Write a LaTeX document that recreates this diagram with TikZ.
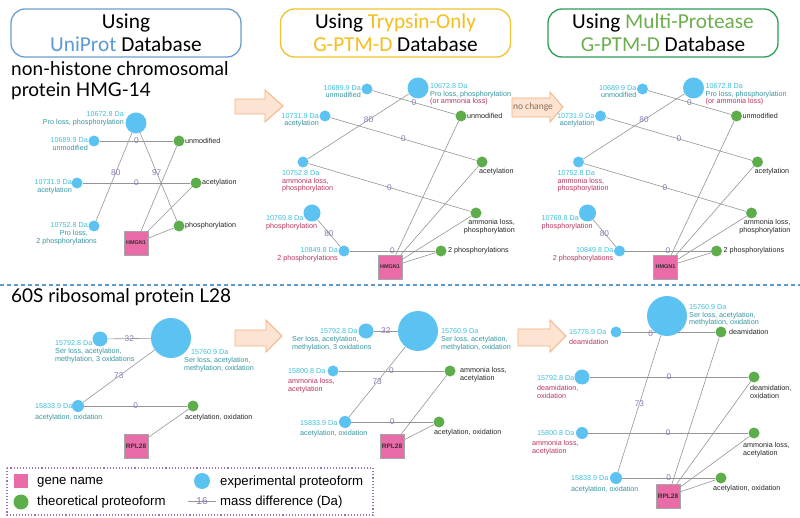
\documentclass[tikz,border=0pt]{standalone}
\usepackage{fontspec}
\setmainfont{Liberation Sans}
\newfontfamily\hdrfont{Carlito}
\newfontfamily\ttlfont{Lato}
\usetikzlibrary{backgrounds}
\definecolor{expblue}{HTML}{5CC2F2}
\definecolor{theogreen}{HTML}{5DAE4B}
\definecolor{genepink}{HTML}{E96BA8}
\definecolor{edgegray}{HTML}{959595}
\definecolor{edgepurple}{HTML}{8A78B4}
\definecolor{massc}{HTML}{3FBFDA}
\definecolor{descc}{HTML}{3596A0}
\definecolor{redc}{HTML}{B8345A}
\definecolor{hdrblue}{HTML}{6C9ECF}
\definecolor{hdryellow}{HTML}{F2C230}
\definecolor{hdrgreen}{HTML}{2E9E55}
\definecolor{txtblue}{HTML}{5B9BD5}
\definecolor{txtyellow}{HTML}{F5BE1E}
\definecolor{txtgreen}{HTML}{6DAF4E}
\definecolor{arrfill}{HTML}{FDE4D2}
\definecolor{arrdraw}{HTML}{F2B07E}
\definecolor{dashblue}{HTML}{5B9BD5}
\definecolor{legpurple}{HTML}{9B72B8}
\definecolor{notecol}{HTML}{8A6A5A}
\newcommand\mss[1]{\textcolor{massc}{#1}}
\newcommand\dsc[1]{\textcolor{descc}{#1}}
\newcommand\rdc[1]{\textcolor{redc}{#1}}
\tikzset{
  exp/.style={circle,fill=expblue,inner sep=0pt,minimum size=#1},
  theo/.style={circle,fill=theogreen,inner sep=0pt,minimum size=#1},
  gene/.style={rectangle,fill=genepink,draw=gray!70,line width=0.3pt,inner sep=0pt,minimum width=24,minimum height=24,font=\fontsize{5.5}{6}\selectfont\bfseries,text=black!80},
  genel/.style={gene,font=\fontsize{6.5}{7}\selectfont\bfseries},
  lbl/.style={inner sep=0pt,font=\fontsize{7.2}{7.6}\selectfont,text=black!85},
  lblw/.style={lbl,font=\fontsize{7.2}{8}\selectfont},
  edge/.style={draw=edgegray,line width=0.6pt},
  elbl/.style={inner sep=0pt,text=edgepurple,font=\fontsize{8.3}{8.3}\selectfont},
  hbox/.style={rounded corners=14pt,line width=1.3pt,minimum width=230,minimum height=48,align=center,font=\hdrfont\fontsize{21.3}{23}\selectfont},
  bigarrow/.style={fill=arrfill,draw=arrdraw,line width=0.8pt},
  legtxt/.style={inner sep=0pt,anchor=west,font=\fontsize{13.2}{15}\selectfont},
}
\newcommand\toppanel[1]{%
  \node[exp=21] (#1big) at (418,88) {};
  \node[lbl,anchor=north west,align=left] (#1bigL) at (430,83.5) {\mss{10672.8 Da}\\\dsc{Pro loss, phosphorylation}\\\rdc{(or ammonia loss)}};
  \node[exp=11] (#1u) at (367,89) {};
  \node[lbl,anchor=north east,align=right] (#1uL) at (361,85) {\mss{10689.9 Da}\\\dsc{unmodified}};
  \node[exp=11] (#1a) at (325,116) {};
  \node[lbl,anchor=north east,align=right] (#1aL) at (319,113) {\mss{10731.9 Da}\\\dsc{acetylation}};
  \node[exp=11] (#1p) at (303,162) {};
  \node[lbl,anchor=north west,align=left] (#1pL) at (282,170.5) {\mss{10752.8 Da}\\\rdc{ammonia loss,}\\\rdc{phosphorylation}};
  \node[exp=17] (#1q) at (312,213) {};
  \node[lbl,anchor=north west,align=left] (#1qL) at (266,215.5) {\mss{10769.8 Da}\\\rdc{phosphorylation}};
  \node[exp=11] (#1r) at (344,251) {};
  \node[lbl,anchor=north east,align=right] (#1rL) at (338,247.5) {\mss{10849.8 Da}\\\rdc{2 phosphorylations}};
  \node[theo=11] (#1gu) at (461,116) {};
  \node[lbl,anchor=west] (#1guL) at (467,116) {unmodified};
  \node[theo=11] (#1ga) at (482,162) {};
  \node[lbl,anchor=north west] (#1gaL) at (479,168.5) {acetylation};
  \node[theo=11] (#1gp) at (476,213) {};
  \node[lbl,anchor=north east,align=right] (#1gpL) at (515,219.5) {ammonia loss,\\phosphorylation};
  \node[theo=11] (#1g2) at (441,251) {};
  \node[lbl,anchor=west] (#1g2L) at (448,251) {2 phosphorylations};
  \node[gene] (#1gene) at (390,267) {HMGN1};
  \begin{scope}[on background layer]
    \draw[edge] (#1u) -- node[elbl]{0} (#1gu);
    \draw[edge] (#1big) -- node[elbl,pos=0.4]{80} (#1p);
    \draw[edge] (#1a) -- node[elbl]{0} (#1ga);
    \draw[edge] (#1p) -- node[elbl]{0} (#1gp);
    \draw[edge] (#1q) -- node[elbl]{80} (#1r);
    \draw[edge] (#1r) -- node[elbl]{0} (#1g2);
    \draw[edge] (#1gene) -- (#1gu);
    \draw[edge] (#1gene) -- (#1ga);
    \draw[edge] (#1gene) -- (#1gp);
    \draw[edge] (#1gene) -- (#1g2);
  \end{scope}
}
\begin{document}
\begin{tikzpicture}[x=1pt,y=-1pt]
\begin{scope}[on background layer]
\fill[white] (0,0) rectangle (800,518);
\end{scope}
\path[use as bounding box] (0,0) rectangle (800,518);

% headers
\node[hbox,draw=hdrblue] (h1) at (126,33) {Using\\\textcolor{txtblue}{UniProt} Database};
\node[hbox,draw=hdryellow] (h2) at (395.5,33) {Using \textcolor{txtyellow}{Trypsin-Only}\\\textcolor{txtyellow}{G-PTM-D} Database};
\node[hbox,draw=hdrgreen] (h3) at (663,33) {Using \textcolor{txtgreen}{Multi-Protease}\\\textcolor{txtgreen}{G-PTM-D} Database};

% titles
\node[inner sep=0pt,anchor=north west,align=left,font=\ttlfont\fontsize{19}{21}\selectfont] (t1) at (11,61) {non-histone chromosomal\\protein HMG-14};
\node[inner sep=0pt,anchor=west,font=\ttlfont\fontsize{19}{21}\selectfont] (t2) at (11,297) {60S ribosomal protein L28};

% separator
\draw[dashblue,line width=1.2pt,dash pattern=on 4pt off 3pt] (0,285) -- (800,285);

% big arrows
\draw[bigarrow] (235,99) -- (265,99) -- (265,90) -- (283,106) -- (265,122) -- (265,114) -- (235,114) -- cycle;
\draw[bigarrow] (512,98) -- (550,98) -- (550,92) -- (563,107) -- (550,122) -- (550,117) -- (512,117) -- cycle;
\node[inner sep=0pt,text=notecol,font=\hdrfont\fontsize{9.5}{10}\selectfont] (nc) at (533,107) {no change};
\draw[bigarrow] (235,330) -- (266,330) -- (266,320) -- (282,336) -- (266,352) -- (266,346) -- (235,346) -- cycle;
\draw[bigarrow] (518,329) -- (550,329) -- (550,320) -- (566,336) -- (550,352) -- (550,346) -- (518,346) -- cycle;

% ===== top-left panel
\node[exp=21] (lbig) at (136,123) {};
\node[lbl,anchor=north east,align=right,font=\fontsize{7.2}{8}\selectfont] (lbigL) at (124,111.5) {\mss{10672.8 Da}\\\dsc{Pro loss, phosphorylation}};
\node[exp=11] (lu) at (94,141) {};
\node[lbl,anchor=north east,align=right,font=\fontsize{7.2}{8}\selectfont] (luL) at (88,137.5) {\mss{10689.9 Da}\\\dsc{unmodified}};
\node[exp=11] (la) at (77,183) {};
\node[lbl,anchor=north east,align=right,font=\fontsize{7.2}{8}\selectfont] (laL) at (72,179.5) {\mss{10731.9 Da}\\\dsc{acetylation}};
\node[exp=11] (lp) at (94,226) {};
\node[lbl,anchor=north east,align=right,font=\fontsize{7.2}{8}\selectfont] (lpL) at (88,222) {\mss{10752.8 Da}\\\dsc{Pro loss,}\\\dsc{2 phosphorylations}\hspace*{-9pt}};
\node[theo=11] (lgu) at (179,141) {};
\node[lbl,anchor=west] (lguL) at (185,141) {unmodified};
\node[theo=11] (lga) at (196,183) {};
\node[lbl,anchor=west] (lgaL) at (202,183) {acetylation};
\node[theo=11] (lgp) at (179,226) {};
\node[lbl,anchor=west] (lgpL) at (185,226) {phosphorylation};
\node[gene] (lgene) at (136,243) {HMGN1};
\begin{scope}[on background layer]
  \draw[edge] (lu) -- node[elbl]{0} (lgu);
  \draw[edge] (la) -- node[elbl]{0} (lga);
  \draw[edge] (lbig) -- node[elbl,pos=0.45]{80} (lp);
  \draw[edge] (lbig) -- node[elbl,pos=0.45]{97} (lgp);
  \draw[edge] (lgene) -- (lgu);
  \draw[edge] (lgene) -- (lga);
  \draw[edge] (lgene) -- (lgp);
\end{scope}

% ===== top-middle and top-right panels
\begin{scope}\toppanel{m}\end{scope}
\begin{scope}[xshift=275.5pt]\toppanel{r}\end{scope}

% ===== bottom-left panel
\node[exp=40] (bbig) at (171,338) {};
\node[lblw,anchor=north west,align=left] (bbigL) at (184,349.5) {\hspace*{7pt}\mss{15760.9 Da}\\\dsc{Ser loss, acetylation,}\\\dsc{methylation, oxidation}};
\node[exp=15] (bs) at (100,339) {};
\node[lblw,anchor=north west,align=left] (bsL) at (55,340.5) {\mss{15792.8 Da}\\\dsc{Ser loss, acetylation,}\\\dsc{methylation, 3 oxidations}};
\node[exp=12] (bo) at (78,406) {};
\node[lblw,anchor=north west,align=left] (boL) at (35,403.5) {\mss{15833.9 Da}\\[2.5pt]\dsc{acetylation, oxidation}};
\node[theo=11] (bgo) at (193,406) {};
\node[lbl,anchor=north west] (bgoL) at (185,414) {acetylation, oxidation};
\node[genel] (bgene) at (136,446) {RPL28};
\begin{scope}[on background layer]
  \draw[edge] (bs) -- node[elbl]{32} (bbig);
  \draw[edge] (bbig) -- node[elbl]{73} (bo);
  \draw[edge] (bo) -- node[elbl]{0} (bgo);
  \draw[edge] (bgene) -- (bgo);
\end{scope}

% ===== bottom-middle panel
\node[exp=40] (mbig2) at (418,331) {};
\node[lblw,anchor=north west,align=left] (mbig2L) at (441,328.5) {\mss{15760.9 Da}\\\dsc{Ser loss, acetylation,}\\\dsc{methylation, oxidation}};
\node[exp=15] (ms) at (366,331) {};
\node[lblw,anchor=north west,align=left] (msL) at (292,328.5) {\hspace*{28pt}\mss{15792.8 Da}\\\dsc{Ser loss, acetylation,}\\\dsc{methylation, 3 oxidations}};
\node[exp=11] (mpa) at (333,371) {};
\node[lblw,anchor=north west,align=left] (mpaL) at (288,368.5) {\mss{15800.8 Da}\\[2pt]\rdc{ammonia loss,}\\\rdc{acetylation}};
\node[theo=11] (mgpa) at (450,371) {};
\node[lbl,anchor=north west,align=left] (mgpaL) at (460,367.5) {ammonia loss,\\acetylation};
\node[exp=12] (mo) at (345,422) {};
\node[lblw,anchor=north west,align=left] (moL) at (300,420.5) {\mss{15833.9 Da}\\[2pt]\dsc{acetylation, oxidation}};
\node[theo=11] (mgo) at (439,422) {};
\node[lbl,anchor=north west] (mgoL) at (434,429.5) {acetylation, oxidation};
\node[genel] (mgene) at (392,446) {RPL28};
\begin{scope}[on background layer]
  \draw[edge] (ms) -- node[elbl]{32} (mbig2);
  \draw[edge] (mpa) -- node[elbl]{0} (mgpa);
  \draw[edge] (mbig2) -- node[elbl]{73} (mo);
  \draw[edge] (mo) -- node[elbl]{0} (mgo);
  \draw[edge] (mgene) -- (mgpa);
  \draw[edge] (mgene) -- (mgo);
\end{scope}

% ===== bottom-right panel
\node[exp=40] (rbig2) at (667,316) {};
\node[lbl,anchor=north west,align=left] (rbig2L) at (689,304.5) {\mss{15760.9 Da}\\\dsc{Ser loss, acetylation,}\\\dsc{methylation, oxidation}};
\node[exp=11] (rd) at (616,332) {};
\node[lblw,anchor=north west,align=left] (rdL) at (569,329.5) {\mss{15776.9 Da}\\[1.5pt]\rdc{deamidation}};
\node[theo=11] (rgd) at (721,332) {};
\node[lbl,anchor=west] (rgdL) at (729,332) {deamidation};
\node[exp=15] (re) at (582,377) {};
\node[lblw,anchor=north west,align=left] (reL) at (537,375.5) {\mss{15792.8 Da}\\[2pt]\rdc{deamidation,}\\\rdc{oxidation}};
\node[theo=11] (rge) at (754,377) {};
\node[lblw,anchor=north west,align=left] (rgeL) at (750,385.5) {deamidation,\\oxidation};
\node[exp=12] (rf) at (582,433) {};
\node[lblw,anchor=north west,align=left] (rfL) at (532,430.5) {\hspace*{5pt}\mss{15800.8 Da}\\[2pt]\rdc{ammonia loss,}\\\rdc{acetylation}};
\node[theo=11] (rgf) at (754,433) {};
\node[lblw,anchor=north west,align=left] (rgfL) at (743,442.5) {ammonia loss,\\acetylation};
\node[exp=12] (ro) at (616,478) {};
\node[lblw,anchor=north west,align=left] (roL) at (571,475.5) {\mss{15833.9 Da}\\[3pt]\dsc{acetylation, oxidation}};
\node[theo=11] (rgo) at (721,478) {};
\node[lbl,anchor=north west] (rgoL) at (713,485.5) {acetylation, oxidation};
\node[genel] (rgene) at (668,496) {RPL28};
\begin{scope}[on background layer]
  \draw[edge] (rd) -- node[elbl,pos=0.31,yshift=-2pt]{0} (rgd);
  \draw[edge] (re) -- node[elbl]{0} (rge);
  \draw[edge] (rf) -- node[elbl]{0} (rgf);
  \draw[edge] (ro) -- node[elbl]{0} (rgo);
  \draw[edge] (rbig2) -- node[elbl]{73} (ro);
  \draw[edge] (rgene) -- (rgd);
  \draw[edge] (rgene) -- (rge);
  \draw[edge] (rgene) -- (rgf);
  \draw[edge] (rgene) -- (rgo);
\end{scope}

% ===== legend
\draw[legpurple,dotted,line width=1.1pt] (7,468) rectangle (373,515);
\node[rectangle,fill=genepink,inner sep=0pt,minimum size=14] (lg1) at (21,481) {};
\node[legtxt] (lg1t) at (37,482) {gene name};
\node[theo=15] (lg2) at (21,502) {};
\node[legtxt] (lg2t) at (37,502.5) {theoretical proteoform};
\node[exp=16] (lg3) at (202,481) {};
\node[legtxt] (lg3t) at (220,482) {experimental proteoform};
\coordinate (lgA) at (188,501);
\coordinate (lgB) at (216,501);
\draw[edge,line width=0.8pt] (lgA) -- node[elbl,font=\fontsize{10}{10}\selectfont]{16} (lgB);
\node[legtxt] (lg4t) at (220,502.5) {mass difference (Da)};
\end{tikzpicture}
\end{document}
